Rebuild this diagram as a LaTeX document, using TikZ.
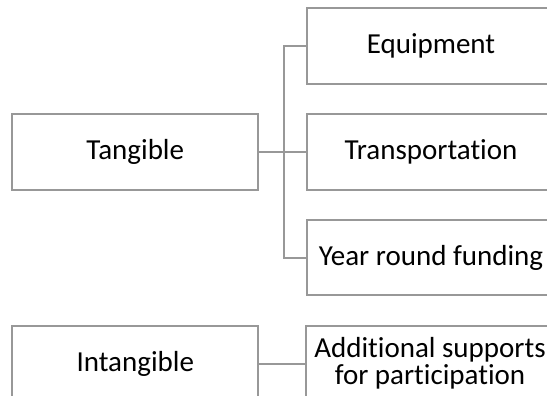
\documentclass[tikz,border=0pt]{standalone}
\usepackage{fontspec}
\setmainfont[Ligatures=NoCommon]{Carlito}
\usetikzlibrary{positioning}
\definecolor{supGray}{HTML}{989898}

\begin{document}
\begin{tikzpicture}[x=1pt,y=-1pt,font=\fontsize{29}{27}\selectfont,
  catbox/.style={draw=supGray,line width=2pt,minimum width=246pt,
                 minimum height=75.5pt,inner sep=0pt,align=center},
  itembox/.style={catbox,minimum width=248pt},
  link/.style={draw=supGray,line width=2pt}]
\useasboundingbox (0,0) rectangle (547,396);
\clip (0,0) rectangle (547,396);
% categories
\node[catbox] (tang) at (135.3,152.2) {Tangible};
\node[catbox] (intang) at (135.3,363.5) {Intangible};
% supports
\node[itembox] (equip) at (431,46.2) {Equipment};
\node[itembox] (trans) at (431,152.2) {Transportation};
\node[itembox] (year) at (431,257.7) {Year round funding};
\node[itembox] (addl) at (430,363.5) {Additional supports\\for participation};
% connectors
\coordinate[right=24.7pt of tang.east] (fork);
\draw[link] (tang.east) -- (trans.west);
\draw[link] (equip.west) -| (fork) |- (year.west);
\draw[link] (intang.east) -- (addl.west);
\end{tikzpicture}
\end{document}
